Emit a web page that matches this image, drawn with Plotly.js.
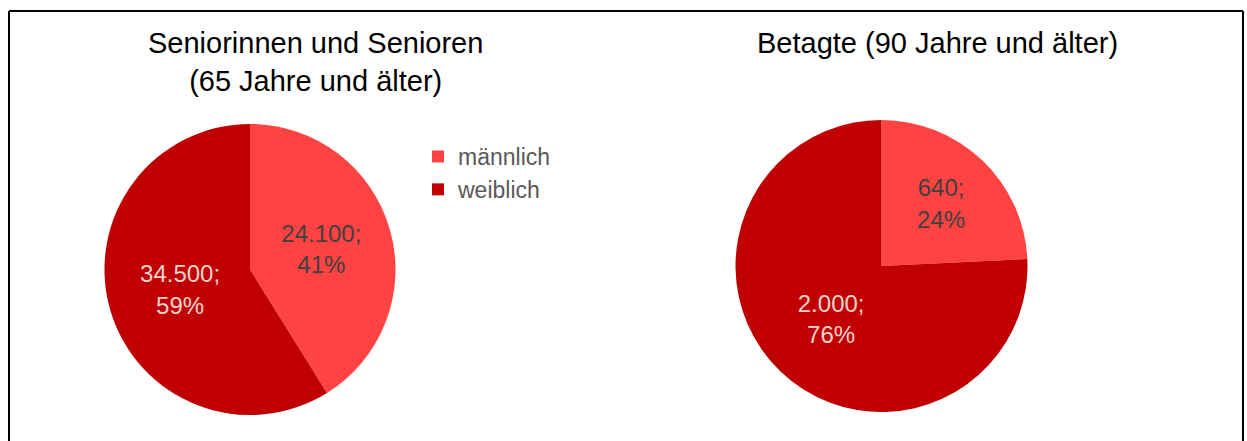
<!DOCTYPE html>
<html><head><meta charset="utf-8">
<script src="https://cdn.plot.ly/plotly-3.0.1.min.js"></script>
<style>html,body{margin:0;padding:0;background:#fff}#c{width:1247px;height:441px}</style>
</head><body><div id="c"></div>
<script>
const categories = ["männlich", "weiblich"];
const seniorValues = [24100, 34500];
const seniorLabels = ["24.100;<br>41%", "34.500;<br>59%"];
const betagteValues = [640, 2000];
const betagteLabels = ["640;<br>24%", "2.000;<br>76%"];
const titles = ["Seniorinnen und Senioren<br>(65 Jahre und älter)", "Betagte (90 Jahre und älter)"];
const colors = ["#FF4343", "#C00000"];
const textColors = ["#404040", "#F6D3CC"];

const W = 1247, H = 441;
function px(x){return x/W;}
function py(y){return 1 - y/H;}
const FAM = 'Liberation Sans, Arial, sans-serif';

const common = {
  type: 'pie', labels: categories, sort: false, direction: 'clockwise', rotation: 0,
  marker: {colors: colors, line: {width: 0}},
  textinfo: 'text', textposition: 'inside', insidetextorientation: 'horizontal',
  textfont: {family: FAM, size: 24, color: textColors},
  hoverinfo: 'label+value+percent'
};

const data = [
  Object.assign({}, common, {values: seniorValues, text: seniorLabels,
    domain: {x: [px(104), px(396)], y: [py(415), py(124)]}, legend: 'legend'}),
  Object.assign({}, common, {values: betagteValues, text: betagteLabels,
    domain: {x: [px(735), px(1028)], y: [py(412), py(120)]}, legend: 'legend2'})
];

const legendFont = {family: FAM, size: 23, color: '#595959'};
const layout = {
  width: W, height: H, margin: {l: 0, r: 0, t: 0, b: 0},
  paper_bgcolor: '#fff', font: {family: FAM},
  showlegend: true,
  legend: {x: px(418), y: py(135), xanchor: 'left', yanchor: 'top', font: legendFont,
    bgcolor: 'rgba(0,0,0,0)', itemwidth: 30, tracegroupgap: 0},
  legend2: {x: px(1016), y: py(132), xanchor: 'left', yanchor: 'top', font: legendFont,
    bgcolor: 'rgba(0,0,0,0)', itemwidth: 30, tracegroupgap: 0},
  annotations: [
    {text: titles[0], x: px(315), y: py(25), xref: 'paper', yref: 'paper', xanchor: 'center', yanchor: 'top',
     showarrow: false, font: {size: 29, color: '#000'}},
    {text: titles[1], x: px(937), y: py(25), xref: 'paper', yref: 'paper', xanchor: 'center', yanchor: 'top',
     showarrow: false, font: {size: 29, color: '#000'}}
  ],
  shapes: [
    {type: 'line', xref: 'paper', yref: 'paper', x0: px(9), x1: px(1243), y0: py(11), y1: py(11), line: {color: '#000', width: 2}},
    {type: 'line', xref: 'paper', yref: 'paper', x0: px(9), x1: px(9), y0: py(11), y1: 0, line: {color: '#000', width: 2}},
    {type: 'line', xref: 'paper', yref: 'paper', x0: px(1243), x1: px(1243), y0: py(11), y1: 0, line: {color: '#000', width: 2}}
  ]
};
Plotly.newPlot('c', data, layout, {displayModeBar: false, staticPlot: true});
</script></body></html>
